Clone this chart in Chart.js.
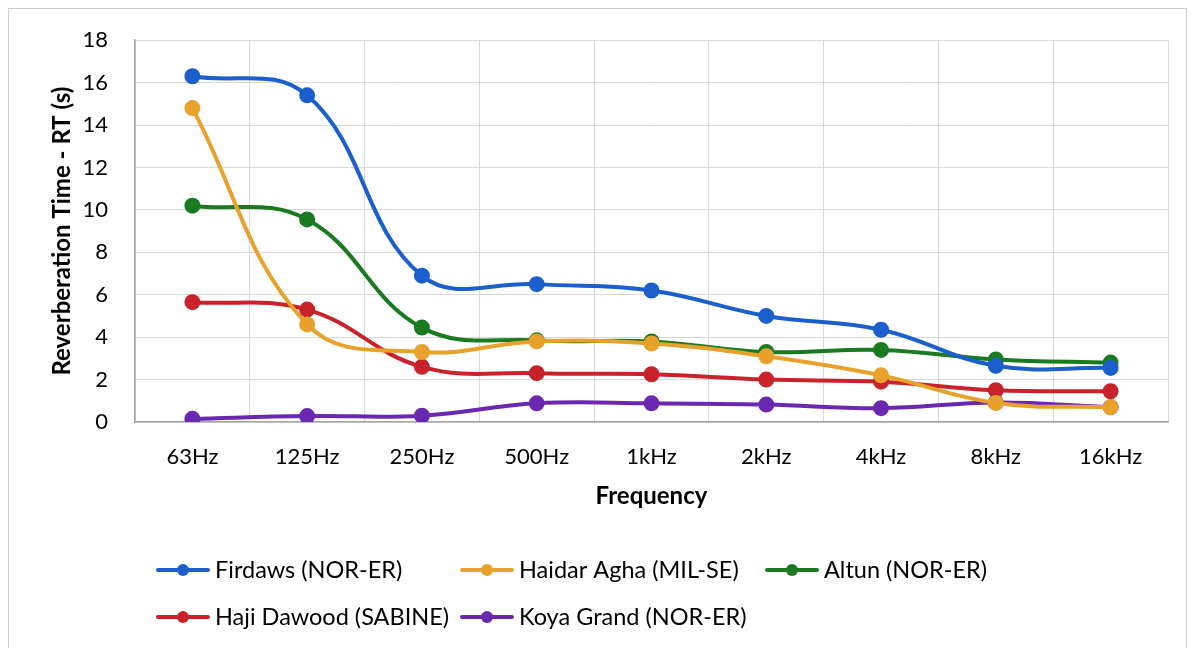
<!DOCTYPE html>
<html><head><meta charset="utf-8">
<script src="https://cdn.jsdelivr.net/npm/chart.js@4.4.1/dist/chart.umd.min.js"></script>
<style>html,body{margin:0;padding:0;background:#fff}#wrap{width:1195px;height:648px;position:relative}</style>
</head><body><div id="wrap"><canvas id="c" width="1195" height="648"></canvas></div>
<script>
const categories = ['63Hz','125Hz','250Hz','500Hz','1kHz','2kHz','4kHz','8kHz','16kHz'];
const firdaws = [16.3, 15.4, 6.9, 6.5, 6.2, 5.0, 4.35, 2.65, 2.55];
const haidarAgha = [14.8, 4.6, 3.3, 3.8, 3.7, 3.1, 2.2, 0.9, 0.7];
const altun = [10.2, 9.55, 4.45, 3.85, 3.8, 3.3, 3.4, 2.95, 2.8];
const hajiDawood = [5.65, 5.3, 2.6, 2.3, 2.25, 2.0, 1.9, 1.5, 1.45];
const koyaGrand = [0.15, 0.28, 0.3, 0.88, 0.88, 0.82, 0.65, 0.92, 0.7];
const yTicks = [0,2,4,6,8,10,12,14,16,18];
const seriesLabels = ['Firdaws (NOR-ER)','Haidar Agha (MIL-SE)','Altun (NOR-ER)','Haji Dawood (SABINE)','Koya Grand (NOR-ER)'];
const colors = ['#1a5fcb','#e8a22b','#1a7a20','#c8232a','#6a28b0'];
const seriesData = [firdaws, haidarAgha, altun, hajiDawood, koyaGrand];

const FONT = 'Lato, "Open Sans", sans-serif';
const legendPos = [[183,570],[487,570],[792,570],[183,617],[487,617]];

const customLegend = {
  id:'customLegend',
  afterDraw(chart){
    const ctx = chart.ctx;
    ctx.save();
    chart.data.datasets.forEach((ds,i)=>{
      const [cx,cy] = legendPos[i];
      ctx.strokeStyle = ds.borderColor; ctx.lineWidth = 4; ctx.lineCap='round';
      ctx.beginPath(); ctx.moveTo(cx-25,cy); ctx.lineTo(cx+25,cy); ctx.stroke();
      ctx.fillStyle = ds.borderColor;
      ctx.beginPath(); ctx.arc(cx,cy,6,0,Math.PI*2); ctx.fill();
      ctx.fillStyle = '#000'; ctx.font = '23.5px '+FONT; ctx.textBaseline='middle'; ctx.textAlign='left';
      ctx.fillText(ds.label, cx+32, cy);
    });
    ctx.strokeStyle = '#d0d0d0'; ctx.lineWidth = 1;
    ctx.strokeRect(8.5, 8.5, 1178, 680);
    ctx.restore();
  }
};

new Chart(document.getElementById('c'), {
  type:'line',
  data:{
    labels: categories,
    datasets: seriesData.map((d,i)=>({
      label: seriesLabels[i], data: d,
      borderColor: colors[i], backgroundColor: colors[i],
      borderWidth: 4, pointRadius: 6, pointHoverRadius: 6,
      pointBackgroundColor: colors[i], pointBorderColor: colors[i],
      tension: 0.4, fill:false
    }))
  },
  options:{
    responsive:false, animation:false,
    layout:{padding:{left:40, right:27, top:39, bottom:126}},
    plugins:{legend:{display:false}, tooltip:{enabled:false}},
    scales:{
      x:{
        offset:true,
        grid:{color:'#d9d9d9', lineWidth:1, offset:true, drawTicks:false},
        border:{color:'#a6a6a6', width:1.5},
        ticks:{color:'#000', font:{family:FONT, size:22}, padding:22},
        title:{display:true, text:'Frequency', color:'#000', font:{family:FONT, size:24, weight:'bold'}, padding:{top:0,bottom:11}},
        afterFit(s){ s.height = 100; }
      },
      y:{
        min:0, max:18,
        afterBuildTicks(s){ s.ticks = yTicks.map(v=>({value:v})); },
        grid:{color:'#d9d9d9', lineWidth:1, drawTicks:false},
        border:{color:'#a6a6a6', width:1.5},
        ticks:{color:'#000', font:{family:FONT, size:22}, padding:27},
        title:{display:true, text:'Reverberation Time - RT (s)', color:'#000', font:{family:FONT, size:24, weight:'bold'}, padding:{top:8,bottom:0}},
        afterFit(s){ s.width = 95; }
      }
    }
  },
  plugins:[customLegend]
});
</script></body></html>
